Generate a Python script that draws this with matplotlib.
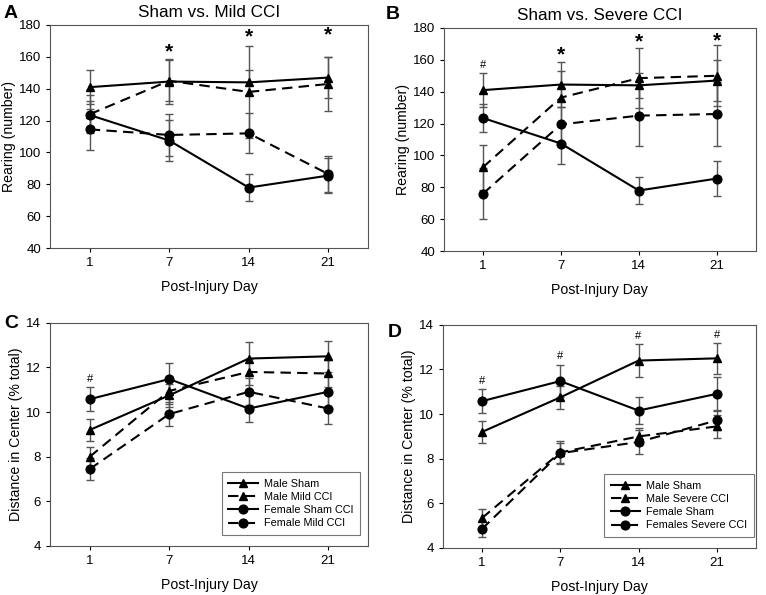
import matplotlib
matplotlib.use("Agg")
from matplotlib import pyplot as plt
import numpy as np

plt.rcParams['font.family'] = ['Liberation Sans', 'DejaVu Sans']

days = ["1", "7", "14", "21"]

# Panel A / B: rearing
male_sham_rear = [141, 144.5, 144, 147]
male_sham_rear_err = [10.5, 14, 8, 13]
female_sham_rear = [123.5, 107.5, 78, 85.5]
female_sham_rear_err = [9, 13, 8.5, 11]
male_mild_rear = [124, 145, 138, 143]
male_mild_rear_err = [12, 13, 29, 17]
female_mild_rear = [114.5, 111, 112, 86.5]
female_mild_rear_err = [13, 13, 12.5, 11]
male_sev_rear = [92.6, 136.3, 148.5, 150]
male_sev_rear_err = [14, 17, 19, 19]
female_sev_rear = [76, 119.5, 125, 126]
female_sev_rear_err = [16, 11, 19, 20]

# Panel C / D: distance in center
male_sham_dist = [9.2, 10.75, 12.4, 12.5]
male_sham_dist_err = [0.5, 0.5, 0.75, 0.7]
female_sham_dist = [10.58, 11.48, 10.16, 10.91]
female_sham_dist_err = [0.55, 0.7, 0.6, 0.75]
male_mild_dist = [8.0, 10.95, 11.8, 11.73]
male_mild_dist_err = [0.45, 0.6, 0.6, 0.6]
female_mild_dist = [7.45, 9.91, 10.91, 10.16]
female_mild_dist_err = [0.5, 0.55, 0.6, 0.7]
male_sev_dist = [5.34, 8.28, 9.0, 9.45]
male_sev_dist_err = [0.4, 0.5, 0.4, 0.5]
female_sev_dist = [4.85, 8.25, 8.75, 9.72]
female_sev_dist_err = [0.35, 0.45, 0.55, 0.45]

marks_a = [(1, "*", 163), (2, "*", 172.5), (3, "*", 173.5)]
marks_b = [(0, "#", 157), (1, "*", 163), (2, "*", 171), (3, "*", 172)]
marks_c = [(0, "#", 11.5)]
marks_d = [(0, "#", 11.5), (1, "#", 12.6), (2, "#", 13.5), (3, "#", 13.55)]

x = np.arange(len(days))

fig = plt.figure(figsize=(7.66, 5.95), dpi=100)


def series(ax, y, err, marker, ls, label):
    ax.errorbar(x, y, yerr=err, fmt='none', ecolor='#555555', elinewidth=1,
                capsize=3, capthick=1, zorder=1)
    ax.plot(x, y, color='black', marker=marker, linestyle=ls, linewidth=1.5,
            markersize=6.3, label=label, zorder=3,
            dashes=(5, 3) if ls == '--' else (None, None))


def setup(ax, ylim, yticks, ylabel):
    ax.set_xlim(-0.5, 3.5)
    ax.set_ylim(*ylim)
    ax.set_yticks(yticks)
    ax.set_xticks(x)
    ax.set_xticklabels(days)
    ax.tick_params(labelsize=9.5, direction='out', length=3)
    ax.set_xlabel("Post-Injury Day", fontsize=10.2, labelpad=8)
    ax.set_ylabel(ylabel, fontsize=10.2, labelpad=2)
    for s in ax.spines.values():
        s.set_color('#555555')


def marks(ax, m):
    for i, t, yv in m:
        if t == "*":
            ax.text(i, yv, t, ha='center', va='center', fontsize=15, fontweight='bold')
        else:
            ax.text(i, yv, t, ha='center', va='center', fontsize=8)


def legend(ax, anchor):
    leg = ax.legend(loc='lower right', bbox_to_anchor=anchor,
                    bbox_transform=fig.transFigure, fontsize=7.8, frameon=True,
                    fancybox=False, edgecolor='#555555', handlelength=2.7,
                    handletextpad=0.6, labelspacing=0.3, borderpad=0.6,
                    borderaxespad=0)
    leg.get_frame().set_linewidth(0.8)


axA = fig.add_axes([0.0653, 0.583, 0.415, 0.375])
series(axA, male_sham_rear, male_sham_rear_err, '^', '-', "Male Sham")
series(axA, male_mild_rear, male_mild_rear_err, '^', '--', "Male Mild CCI")
series(axA, female_sham_rear, female_sham_rear_err, 'o', '-', "Female Sham CCI")
series(axA, female_mild_rear, female_mild_rear_err, 'o', '--', "Female Mild CCI")
setup(axA, (40, 180), range(40, 181, 20), "Rearing (number)")
axA.set_title("Sham vs. Mild CCI", fontsize=12.3, pad=6)
marks(axA, marks_a)

axB = fig.add_axes([0.5796, 0.578, 0.407, 0.375])
series(axB, male_sham_rear, male_sham_rear_err, '^', '-', "Male Sham")
series(axB, male_sev_rear, male_sev_rear_err, '^', '--', "Male Severe CCI")
series(axB, female_sham_rear, female_sham_rear_err, 'o', '-', "Female Sham")
series(axB, female_sev_rear, female_sev_rear_err, 'o', '--', "Females Severe CCI")
setup(axB, (40, 180), range(40, 181, 20), "Rearing (number)")
axB.set_title("Sham vs. Severe CCI", fontsize=12.3, pad=6)
marks(axB, marks_b)

axC = fig.add_axes([0.0653, 0.0824, 0.415, 0.375])
series(axC, male_sham_dist, male_sham_dist_err, '^', '-', "Male Sham")
series(axC, male_mild_dist, male_mild_dist_err, '^', '--', "Male Mild CCI")
series(axC, female_sham_dist, female_sham_dist_err, 'o', '-', "Female Sham CCI")
series(axC, female_mild_dist, female_mild_dist_err, 'o', '--', "Female Mild CCI")
setup(axC, (4, 14), range(4, 15, 2), "Distance in Center (% total)")
marks(axC, marks_c)
legend(axC, (360 / 766, 1 - 535 / 595))

axD = fig.add_axes([0.578, 0.079, 0.409, 0.375])
series(axD, male_sham_dist, male_sham_dist_err, '^', '-', "Male Sham")
series(axD, male_sev_dist, male_sev_dist_err, '^', '--', "Male Severe CCI")
series(axD, female_sham_dist, female_sham_dist_err, 'o', '-', "Female Sham")
series(axD, female_sev_dist, female_sev_dist_err, 'o', '--', "Females Severe CCI")
setup(axD, (4, 14), range(4, 15, 2), "Distance in Center (% total)")
marks(axD, marks_d)
legend(axD, (754 / 766, 1 - 537 / 595))

fig.text(0.004, 0.992, "A", fontsize=14, fontweight='bold', va='top')
fig.text(0.503, 0.99, "B", fontsize=14, fontweight='bold', va='top')
fig.text(0.006, 0.47, "C", fontsize=14, fontweight='bold', va='top')
fig.text(0.506, 0.455, "D", fontsize=14, fontweight='bold', va='top')

fig.savefig("out.png", dpi=100)
